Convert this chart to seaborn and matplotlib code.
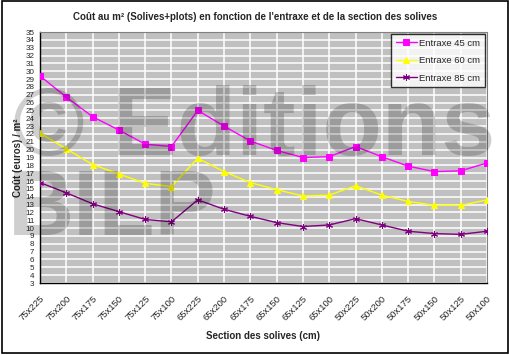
import matplotlib
matplotlib.use("Agg")
import matplotlib.pyplot as plt
import seaborn as sns
import pandas as pd
from matplotlib.patches import Rectangle

# Data
sections = ["75x225", "75x200", "75x175", "75x150", "75x125", "75x100",
            "65x225", "65x200", "65x175", "65x150", "65x125", "65x100",
            "50x225", "50x200", "50x175", "50x150", "50x125", "50x100"]
entraxe_45 = [29.4, 26.7, 24.2, 22.5, 20.7, 20.4, 25.0, 23.0, 21.1, 19.9, 19.0, 19.1,
              20.4, 19.1, 17.9, 17.2, 17.3, 18.3]
entraxe_60 = [22.1, 20.1, 18.1, 16.9, 15.7, 15.3, 18.9, 17.2, 15.8, 14.9, 14.1, 14.2,
              15.4, 14.2, 13.4, 12.9, 12.9, 13.6]
entraxe_85 = [15.8, 14.5, 13.1, 12.1, 11.1, 10.8, 13.6, 12.4, 11.5, 10.7, 10.2, 10.4,
              11.2, 10.4, 9.6, 9.3, 9.2, 9.6]

series_names = ["Entraxe 45 cm", "Entraxe 60 cm", "Entraxe 85 cm"]
series_values = [entraxe_45, entraxe_60, entraxe_85]
colors = ["#FF00FF", "#FFFF00", "#800080"]
markers = ["s", "^", (6, 2, 0)]

sns.set_style("white")
plt.rcParams['font.family'] = ['Liberation Sans', 'DejaVu Sans']

fig = plt.figure(figsize=(5.1, 3.55), dpi=100)
ax = fig.add_axes([40 / 510, 1 - 283 / 355, 447 / 510, 251 / 355])
ax.set_facecolor("#C0C0C0")

pos = list(range(len(sections)))
for name, vals, col, mk in zip(series_names, series_values, colors, markers):
    df = pd.DataFrame({"pos": pos, "val": vals})
    sns.lineplot(data=df, x="pos", y="val", ax=ax, color=col, marker=mk,
                 markersize=5, linewidth=1, markeredgecolor=col,
                 markerfacecolor=col, label=name, zorder=3)

ax.set_xlim(0, len(sections) - 1)
ax.set_ylim(3, 35)
ax.set_yticks(range(3, 36))
ax.set_yticklabels([str(v) for v in range(3, 36)], fontsize=5.8)
ax.set_xticks(pos)
ax.set_xticklabels(sections, rotation=45, ha="right", rotation_mode="anchor", fontsize=6.8)
ax.grid(True, color="white", linewidth=1.1)
ax.set_axisbelow(True)
ax.tick_params(axis="x", direction="out", length=5, width=1, color="black", pad=3)
ax.tick_params(axis="y", direction="out", length=3, width=1, color="black", pad=1)
for s in ["top", "right"]:
    ax.spines[s].set_color("#808080")
    ax.spines[s].set_linewidth(0.8)
for s in ["left", "bottom"]:
    ax.spines[s].set_color("black")
    ax.spines[s].set_linewidth(1)

ax.set_xlabel("Section des solives (cm)", fontsize=7, fontweight="bold", labelpad=6)
ax.set_ylabel("Coût (euros) / m²", fontsize=7, fontweight="bold", labelpad=2)
fig.text(0.5, 1 - 17 / 355, "Coût au m² (Solives+plots) en fonction de l'entraxe et de la section des solives",
         ha="center", va="center", fontsize=7, fontweight="bold")

leg = ax.legend(loc="upper right", fontsize=6.8, frameon=True, fancybox=False,
                borderpad=0.5, labelspacing=0.9, handlelength=2.2, handletextpad=0.3,
                borderaxespad=0.2)
leg.get_frame().set_edgecolor("black")
leg.get_frame().set_linewidth(1)
leg.get_frame().set_facecolor("white")
leg.set_zorder(10)

# watermark
fig.text(0.025, 1 - 130 / 355, "© Editions", fontsize=70, fontweight="bold",
         color="black", alpha=0.19, ha="left", va="center", zorder=20)
fig.text(0.015, 1 - 211 / 355, "BILP", fontsize=66, fontweight="bold",
         color="black", alpha=0.19, ha="left", va="center", zorder=20)

fig.patches.append(Rectangle((0.004, 0.006), 0.992, 0.99, transform=fig.transFigure,
                             fill=False, edgecolor="black", linewidth=1.2))

fig.savefig("out.png", dpi=100)
